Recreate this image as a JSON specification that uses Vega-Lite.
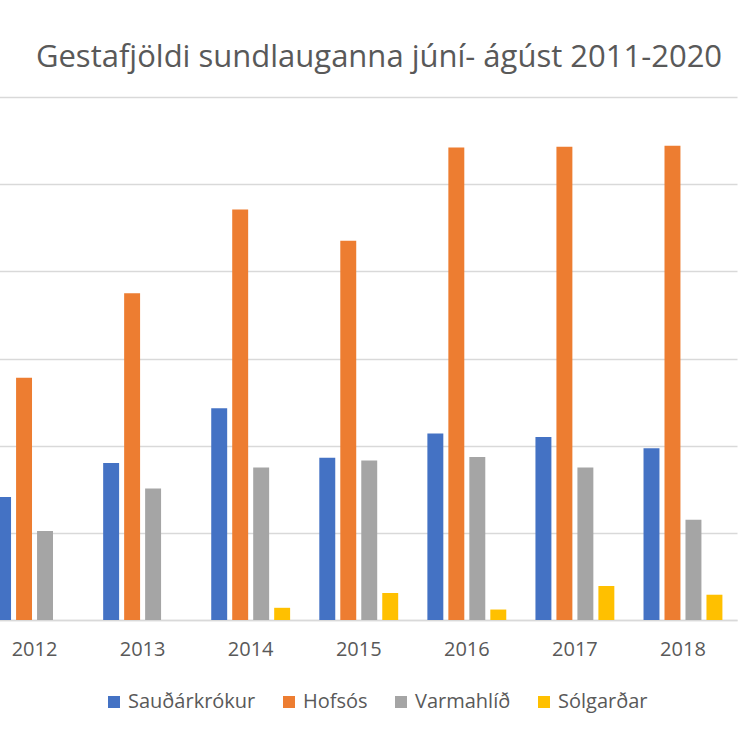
{
  "$schema": "https://vega.github.io/schema/vega-lite/v6.json",
  "autosize": {"type": "none"},
  "padding": {"left": 0, "top": 97, "right": 0, "bottom": 120},
  "width": 740,
  "height": 523,
  "background": "white",
  "title": {
    "text": "Gestafjöldi sundlauganna júní- ágúst 2011-2020",
    "font": "Open Sans",
    "fontSize": 31,
    "fontWeight": "normal",
    "color": "#595959",
    "anchor": "middle",
    "frame": "group",
    "dx": 9,
    "offset": 23
  },
  "data": {
    "values": [
      {"ar": "2012", "laug": "Sauðárkrókur", "gestir": 7050},
      {"ar": "2012", "laug": "Hofsós", "gestir": 13900},
      {"ar": "2012", "laug": "Varmahlíð", "gestir": 5100},
      {"ar": "2012", "laug": "Sólgarðar", "gestir": 0},
      {"ar": "2013", "laug": "Sauðárkrókur", "gestir": 9000},
      {"ar": "2013", "laug": "Hofsós", "gestir": 18750},
      {"ar": "2013", "laug": "Varmahlíð", "gestir": 7550},
      {"ar": "2013", "laug": "Sólgarðar", "gestir": 0},
      {"ar": "2014", "laug": "Sauðárkrókur", "gestir": 12150},
      {"ar": "2014", "laug": "Hofsós", "gestir": 23550},
      {"ar": "2014", "laug": "Varmahlíð", "gestir": 8750},
      {"ar": "2014", "laug": "Sólgarðar", "gestir": 700},
      {"ar": "2015", "laug": "Sauðárkrókur", "gestir": 9300},
      {"ar": "2015", "laug": "Hofsós", "gestir": 21750},
      {"ar": "2015", "laug": "Varmahlíð", "gestir": 9150},
      {"ar": "2015", "laug": "Sólgarðar", "gestir": 1550},
      {"ar": "2016", "laug": "Sauðárkrókur", "gestir": 10700},
      {"ar": "2016", "laug": "Hofsós", "gestir": 27100},
      {"ar": "2016", "laug": "Varmahlíð", "gestir": 9350},
      {"ar": "2016", "laug": "Sólgarðar", "gestir": 600},
      {"ar": "2017", "laug": "Sauðárkrókur", "gestir": 10500},
      {"ar": "2017", "laug": "Hofsós", "gestir": 27150},
      {"ar": "2017", "laug": "Varmahlíð", "gestir": 8750},
      {"ar": "2017", "laug": "Sólgarðar", "gestir": 1950},
      {"ar": "2018", "laug": "Sauðárkrókur", "gestir": 9850},
      {"ar": "2018", "laug": "Hofsós", "gestir": 27200},
      {"ar": "2018", "laug": "Varmahlíð", "gestir": 5750},
      {"ar": "2018", "laug": "Sólgarðar", "gestir": 1450}
    ]
  },
  "mark": {"type": "bar", "clip": true},
  "encoding": {
    "x": {
      "field": "ar",
      "type": "nominal",
      "title": null,
      "scale": {"range": [-19.5, 737], "paddingInner": 0.27, "paddingOuter": 0.135},
      "axis": {
        "labelAngle": 0,
        "labelFont": "Open Sans",
        "labelFontSize": 20,
        "labelColor": "#595959",
        "labelPadding": 19,
        "ticks": false,
        "domainColor": "#D9D9D9",
        "domainWidth": 1.5
      }
    },
    "xOffset": {
      "field": "laug",
      "type": "nominal",
      "sort": ["Sauðárkrókur", "Hofsós", "Varmahlíð", "Sólgarðar"],
      "scale": {"paddingInner": 0.24, "paddingOuter": 0}
    },
    "y": {
      "field": "gestir",
      "type": "quantitative",
      "title": null,
      "scale": {"domain": [0, 30000], "nice": false},
      "axis": {
        "values": [0, 5000, 10000, 15000, 20000, 25000, 30000],
        "labels": false,
        "ticks": false,
        "domain": false,
        "grid": true,
        "gridColor": "#D9D9D9",
        "gridWidth": 1.5
      }
    },
    "color": {
      "field": "laug",
      "type": "nominal",
      "title": null,
      "sort": ["Sauðárkrókur", "Hofsós", "Varmahlíð", "Sólgarðar"],
      "scale": {
        "domain": ["Sauðárkrókur", "Hofsós", "Varmahlíð", "Sólgarðar"],
        "range": ["#4472C4", "#ED7D31", "#A5A5A5", "#FFC000"]
      },
      "legend": {
        "orient": "none",
        "direction": "horizontal",
        "legendX": 104,
        "legendY": 595,
        "symbolType": "square",
        "symbolSize": 144,
        "symbolStrokeWidth": 0,
        "labelFont": "Open Sans",
        "labelFontSize": 20,
        "labelColor": "#595959",
        "labelOffset": 4,
        "columnPadding": 23
      }
    }
  },
  "config": {"view": {"stroke": null}}
}
